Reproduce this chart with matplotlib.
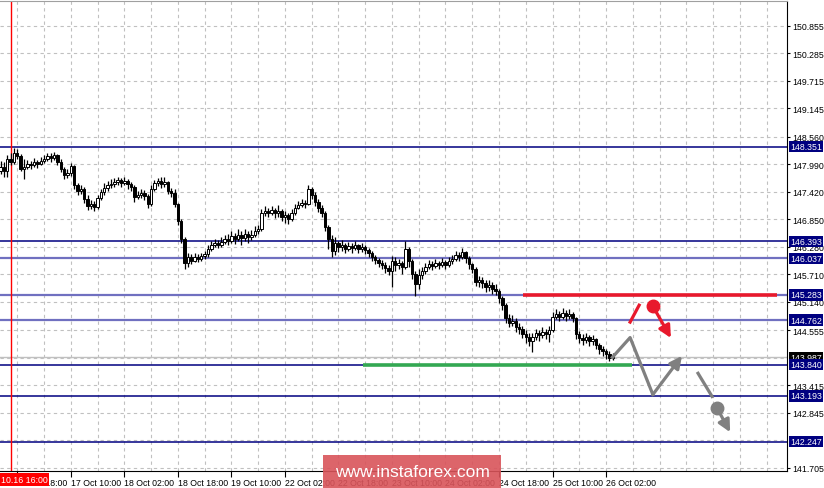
"""USDJPY-style H1 candle chart with levels and forecast arrows."""
import matplotlib
matplotlib.use('Agg')
import matplotlib.pyplot as plt
from matplotlib import transforms
from matplotlib.patches import Rectangle

plt.rcParams['font.family'] = ['Liberation Sans', 'DejaVu Sans']

# H1 bars; bar index 0 = 16 Oct 18:00, first bar in view is index -5
FIRST_BAR = -5
FIRST_OPEN = 147.85
closes = [
    147.93, 147.85, 148.10, 148.03, 148.22, 148.16, 147.89, 147.93, 147.99, 147.97,
    148.03, 147.99, 148.06, 148.10, 148.16, 148.12, 148.18, 148.03, 147.89, 147.77,
    147.81, 147.95, 147.56, 147.43, 147.48, 147.27, 147.12, 147.16, 147.10, 147.29,
    147.41, 147.50, 147.56, 147.58, 147.62, 147.66, 147.60, 147.64, 147.58, 147.52,
    147.31, 147.35, 147.39, 147.33, 147.16, 147.48, 147.60, 147.64, 147.58, 147.62,
    147.43, 147.39, 147.16, 146.81, 146.44, 145.94, 146.07, 145.99, 146.07, 146.03,
    146.09, 146.13, 146.23, 146.32, 146.36, 146.32, 146.38, 146.44, 146.40, 146.50,
    146.44, 146.52, 146.46, 146.54, 146.48, 146.52, 146.61, 146.65, 146.98, 147.02,
    146.98, 147.04, 146.98, 147.02, 146.90, 146.94, 146.85, 146.98, 147.08, 147.14,
    147.19, 147.16, 147.48, 147.35, 147.21, 147.08, 146.98, 146.69, 146.44, 146.19,
    146.36, 146.28, 146.32, 146.23, 146.30, 146.25, 146.32, 146.23, 146.28, 146.21,
    146.15, 146.07, 146.01, 145.94, 145.90, 145.84, 145.78, 145.99, 145.90, 145.94,
    145.86, 146.23, 145.99, 145.72, 145.51, 145.70, 145.78, 145.86, 145.92, 145.88,
    145.94, 145.90, 145.96, 145.90, 145.99, 146.03, 146.11, 146.07, 146.17, 146.05,
    145.92, 145.82, 145.55, 145.59, 145.53, 145.45, 145.49, 145.41, 145.36, 145.22,
    145.07, 144.80, 144.70, 144.74, 144.62, 144.58, 144.47, 144.41, 144.33, 144.41,
    144.49, 144.45, 144.51, 144.47, 144.56, 144.82, 144.89, 144.82, 144.91, 144.85,
    144.89, 144.80, 144.47, 144.39, 144.35, 144.41, 144.33, 144.37, 144.25, 144.16,
    144.12, 144.06, 143.97, 143.99,
]
highs = [
    148.06, 148.03, 148.18, 148.22, 148.32, 148.30, 148.20, 148.10, 148.08, 148.06,
    148.12, 148.08, 148.14, 148.18, 148.22, 148.22, 148.24, 148.20, 148.10, 147.93,
    147.89, 148.01, 147.97, 147.60, 147.56, 147.52, 147.35, 147.25, 147.23, 147.35,
    147.48, 147.60, 147.64, 147.68, 147.70, 147.72, 147.70, 147.72, 147.68, 147.62,
    147.56, 147.43, 147.48, 147.45, 147.37, 147.56, 147.66, 147.70, 147.72, 147.72,
    147.64, 147.50, 147.48, 147.19, 146.85, 146.48, 146.15, 146.13, 146.15, 146.13,
    146.15, 146.19, 146.32, 146.40, 146.44, 146.42, 146.48, 146.52, 146.54, 146.61,
    146.56, 146.65, 146.61, 146.65, 146.61, 146.63, 146.71, 146.73, 147.06, 147.12,
    147.08, 147.12, 147.08, 147.14, 147.06, 147.02, 146.98, 147.06, 147.16, 147.23,
    147.27, 147.25, 147.56, 147.52, 147.41, 147.27, 147.14, 147.02, 146.73, 146.52,
    146.48, 146.40, 146.42, 146.36, 146.38, 146.36, 146.40, 146.34, 146.36, 146.32,
    146.25, 146.19, 146.11, 146.05, 146.01, 145.96, 145.90, 146.09, 146.07, 146.03,
    145.99, 146.40, 146.28, 146.03, 145.78, 145.82, 145.86, 145.94, 146.01, 145.99,
    146.03, 145.99, 146.05, 146.01, 146.07, 146.11, 146.19, 146.17, 146.25, 146.19,
    146.09, 145.94, 145.86, 145.67, 145.65, 145.59, 145.59, 145.55, 145.51, 145.41,
    145.26, 145.12, 144.89, 144.87, 144.80, 144.70, 144.64, 144.56, 144.49, 144.49,
    144.58, 144.56, 144.62, 144.58, 144.64, 144.93, 144.99, 144.95, 145.01, 144.97,
    144.99, 144.93, 144.82, 144.54, 144.47, 144.49, 144.45, 144.45, 144.39, 144.29,
    144.22, 144.16, 144.12, 144.08,
]
lows = [
    147.79, 147.72, 147.72, 147.97, 147.99, 148.10, 147.85, 147.68, 147.89, 147.89,
    147.93, 147.91, 147.97, 148.01, 148.06, 148.03, 148.08, 147.97, 147.83, 147.68,
    147.70, 147.74, 147.48, 147.35, 147.37, 147.19, 147.04, 147.06, 147.02, 147.06,
    147.25, 147.35, 147.43, 147.50, 147.52, 147.56, 147.52, 147.56, 147.48, 147.43,
    147.21, 147.27, 147.29, 147.25, 147.08, 147.12, 147.43, 147.54, 147.50, 147.52,
    147.37, 147.31, 147.10, 146.73, 146.36, 145.82, 145.86, 145.92, 145.96, 145.96,
    145.99, 146.03, 146.07, 146.19, 146.28, 146.25, 146.28, 146.34, 146.32, 146.36,
    146.34, 146.40, 146.32, 146.40, 146.36, 146.42, 146.48, 146.54, 146.61, 146.92,
    146.90, 146.94, 146.88, 146.90, 146.81, 146.77, 146.75, 146.81, 146.94, 147.06,
    147.10, 147.08, 147.14, 147.27, 147.12, 147.00, 146.90, 146.61, 146.23, 146.07,
    146.11, 146.17, 146.19, 146.15, 146.19, 146.15, 146.21, 146.15, 146.17, 146.13,
    146.07, 145.99, 145.92, 145.86, 145.82, 145.74, 145.70, 145.45, 145.78, 145.82,
    145.72, 145.82, 145.86, 145.61, 145.26, 145.41, 145.61, 145.72, 145.82, 145.80,
    145.84, 145.82, 145.86, 145.82, 145.86, 145.92, 145.99, 145.99, 146.03, 145.94,
    145.82, 145.74, 145.47, 145.45, 145.43, 145.34, 145.36, 145.30, 145.28, 145.12,
    144.97, 144.70, 144.62, 144.64, 144.51, 144.47, 144.39, 144.29, 144.22, 144.10,
    144.35, 144.33, 144.39, 144.37, 144.31, 144.51, 144.78, 144.74, 144.78, 144.74,
    144.78, 144.72, 144.37, 144.29, 144.25, 144.29, 144.22, 144.25, 144.16, 144.06,
    144.02, 143.96, 143.92, 143.94,
]

# time axis labels, one every 16 bars starting at bar 0
time_labels = ['16 Oct 18:00', '17 Oct 10:00', '18 Oct 02:00', '18 Oct 18:00',
               '19 Oct 10:00', '22 Oct 02:00', '22 Oct 18:00', '23 Oct 10:00',
               '24 Oct 02:00', '24 Oct 18:00', '25 Oct 10:00', '26 Oct 02:00']

price_ticks = [150.855, 150.285, 149.715, 149.145, 148.560, 147.990, 147.420,
               146.850, 146.280, 145.710, 145.140, 144.555, 143.415, 142.845, 141.705]
hidden_grid = [143.985, 142.275]

# support / resistance levels
levels = [148.351, 146.393, 146.037, 145.283, 144.762, 143.840, 143.193, 142.247]
level_light = [146.037, 145.283, 144.762]
last_price = 143.987

# forecast drawing (bar index, price)
resist_x, resist_y = [151.2, 227.1], [145.283, 145.283]
support_x, support_y = [103.3, 183.8], [143.840, 143.840]
zig_x = [177.9, 183.2, 190.0, 198.7]
zig_y = [143.99, 144.40, 143.22, 144.02]
grey_seg_x, grey_seg_y = [203.5, 207.7], [143.66, 143.18]
grey_dot = (209.2, 142.94)
grey_tip = (213.1, 142.44)
red_seg_x, red_seg_y = [183.2, 185.9], [144.72, 145.07]
red_dot = (190.0, 145.05)
red_tip = (195.4, 144.39)

NAVY = '#000080'
LIGHT = '#7070c0'
RED = '#e8192c'
GREEN = '#33a852'
GREY = '#808080'
GRID = '#c0c0c0'

W, H = 824, 489
fig = plt.figure(figsize=(W / 100, H / 100), dpi=100)
ax = fig.add_axes([0, 17 / H, 787 / W, 470 / H])
ax.set_xlim(-5.17, 230.1)
ax.set_ylim(141.637, 151.368)

# grid
for p in price_ticks + hidden_grid:
    ax.axhline(p, color=GRID, lw=0.8, ls=(0, (3, 3)), zorder=0)
for i in range(0, 231, 8):
    ax.axvline(i, color=GRID, lw=0.8, ls=(0, (3, 3)), zorder=0)

# levels
for p in levels:
    light = p in level_light
    ax.axhline(p, color=LIGHT if light else NAVY, lw=1.6 if light else 1.1, zorder=1)
ax.axhline(last_price, color=GRID, lw=1.0, zorder=1)
ax.axvline(-2, color='red', lw=1.0, zorder=1)

# candles
opens = [FIRST_OPEN] + closes[:-1]
for k, (o, h, l, c) in enumerate(zip(opens, highs, lows, closes)):
    x = FIRST_BAR + k
    ax.vlines(x, min(l, o, c), max(h, o, c), color='black', lw=0.9, zorder=3)
    body = max(abs(c - o), 0.006)
    ax.bar(x, body, bottom=min(o, c), width=0.72,
           color='white' if c >= o else 'black', edgecolor='black',
           linewidth=0.7, zorder=4)

# forecast marks
ax.plot(resist_x, resist_y, color=RED, lw=2.6, solid_capstyle='butt', zorder=5)
ax.plot(support_x, support_y, color=GREEN, lw=2.6, solid_capstyle='butt', zorder=5)
ax.plot(zig_x[:-1], zig_y[:-1], color=GREY, lw=2.3, zorder=6)
ax.annotate('', xy=(zig_x[-1], zig_y[-1]), xytext=(zig_x[-2], zig_y[-2]),
            arrowprops=dict(arrowstyle='-|>', color=GREY, lw=2.3,
                            mutation_scale=18, shrinkA=0, shrinkB=0), zorder=6)
ax.plot(grey_seg_x, grey_seg_y, color=GREY, lw=2.3, zorder=6)
ax.plot(*grey_dot, 'o', color=GREY, ms=9, zorder=6)
ax.annotate('', xy=grey_tip, xytext=grey_dot,
            arrowprops=dict(arrowstyle='-|>', color=GREY, lw=2.3,
                            mutation_scale=18, shrinkA=0, shrinkB=0), zorder=6)
ax.plot(red_seg_x, red_seg_y, color=RED, lw=2.3, zorder=6)
ax.plot(*red_dot, 'o', color=RED, ms=9, zorder=6)
ax.annotate('', xy=red_tip, xytext=red_dot,
            arrowprops=dict(arrowstyle='-|>', color=RED, lw=2.3,
                            mutation_scale=18, shrinkA=0, shrinkB=0), zorder=6)

# axes styling
ax.spines['left'].set_visible(False)
ax.spines['top'].set_color('#a0a0a0')
ax.spines['right'].set_color('black')
ax.spines['bottom'].set_color('black')

ax.yaxis.tick_right()
ax.set_yticks(price_ticks)
ax.set_yticklabels([f'{p:.3f}' for p in price_ticks])
ax.tick_params(axis='y', labelsize=6.3, length=2, pad=1.5, direction='out')
ax.set_xticks(range(0, 16 * len(time_labels), 16))
ax.set_xticklabels(time_labels)
ax.tick_params(axis='x', labelsize=6.3, length=4, pad=1, direction='out')
for lab in ax.get_xticklabels():
    lab.set_ha('left')

# level labels on the price scale (current price first, levels drawn over it)
trans = transforms.blended_transform_factory(ax.transAxes, ax.transData)
for z, p in enumerate([last_price] + levels):
    ax.text(1.004, p, f'{p:.3f}', transform=trans, va='center', ha='left',
            fontsize=6.3, color='white', zorder=10 + z,
            bbox=dict(boxstyle='square,pad=0.14',
                      fc='black' if p == last_price else NAVY, ec='none'))

# red time marker label
fig.text(0.001, 8.5 / H, '10.16 16:00', fontsize=6.3, color='white',
         va='center', ha='left',
         bbox=dict(boxstyle='square,pad=0.2', fc='red', ec='none'))

# watermark
fig.patches.append(Rectangle((323 / W, 0), 178 / W, 33 / H, transform=fig.transFigure,
                             facecolor='#d9545a', alpha=0.9, edgecolor='none', zorder=20))
fig.text(412 / W, 16 / H, 'www.instaforex.com', fontsize=12.5, color='white',
         ha='center', va='center', zorder=21)

fig.savefig('out.png', dpi=100, facecolor='white')
plt.close(fig)
